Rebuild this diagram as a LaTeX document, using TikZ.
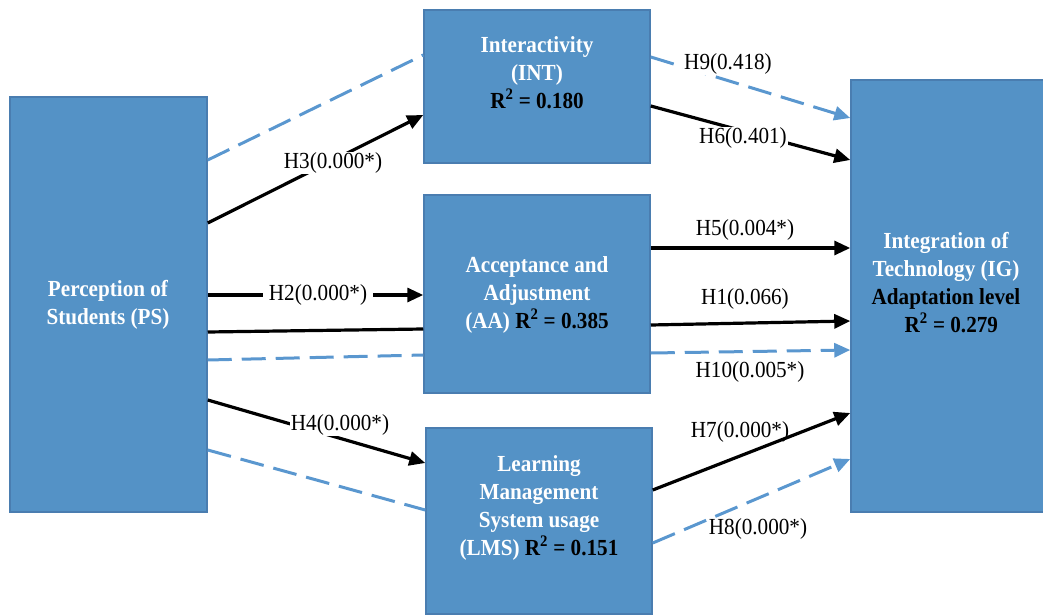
\documentclass[tikz,border=0pt]{standalone}
\usepackage{fontspec}
\setmainfont{Liberation Serif}[FakeStretch=0.92]
\usetikzlibrary{arrows.meta}
\definecolor{boxfill}{HTML}{5492C6}
\definecolor{boxline}{HTML}{4A7DB0}
\definecolor{dashblue}{HTML}{5A97CF}
\begin{document}
\begin{tikzpicture}[x=1pt,y=-1pt,
  box/.style={draw=boxline,fill=boxfill,line width=1.5pt,inner sep=0pt,rectangle},
  boxtext/.style={align=center,font=\fontsize{23}{28}\selectfont\bfseries,text=white,inner sep=0pt},
  lbl/.style={font=\fontsize{23}{26}\selectfont,text=black,inner sep=1pt},
  wlbl/.style={lbl,fill=white},
  solidln/.style={line width=3.2pt},
  solidarr/.style={solidln,-{Triangle[length=16pt,width=14pt]}},
  dashln/.style={draw=dashblue,line width=3pt,dash pattern=on 24pt off 10pt},
  dasharr/.style={dashln,-{Triangle[length=16pt,width=14pt]}}
]
\useasboundingbox (0,0) rectangle (1043,615);
% boxes
\node[box,minimum width=197pt,minimum height=415pt] (PS) at (108.5,304.5) {};
\node[box,minimum width=226pt,minimum height=153pt] (INT) at (537,86.5) {};
\node[box,minimum width=226pt,minimum height=198pt] (AA) at (537,294) {};
\node[box,minimum width=226pt,minimum height=186pt] (LMS) at (539,521) {};
\node[box,minimum width=204pt,minimum height=432pt] (IG) at (953,296) {};
% box texts
\node[boxtext] (PSt) at (108,305) {Perception of\\Students (PS)};
\node[boxtext] (INTt) at (537,73) {Interactivity\\(INT)\\\textcolor{black}{R\textsuperscript{2} = 0.180}};
\node[boxtext] (AAt) at (537,295) {Acceptance and\\Adjustment\\(AA) \textcolor{black}{R\textsuperscript{2} = 0.385}};
\node[boxtext] (LMSt) at (539,508) {Learning\\Management\\System usage\\(LMS) \textcolor{black}{R\textsuperscript{2} = 0.151}};
\node[boxtext] (IGt) at (946,283) {Integration of\\Technology (IG)\\\textcolor{black}{Adaptation level}\\\textcolor{black}{\ \ R\textsuperscript{2} = 0.279}};
% connectors PS -> mediators
\draw[dashln] (PS.east |- 0,160) -- (INT.west |- 0,55);
\draw[solidarr] (PS.east |- 0,223) -- (INT.west |- 0,115);
\draw[solidarr] (PS.east |- 0,295) -- (AA.west |- 0,295);
\draw[solidln] (PS.east |- 0,332) -- (AA.west |- 0,329);
\draw[dashln] (PS.east |- 0,360) -- (AA.west |- 0,355);
\draw[solidarr] (PS.east |- 0,400) -- (LMS.west |- 0,463);
\draw[dashln] (PS.east |- 0,450) -- (LMS.west |- 0,510);
% connectors mediators -> IG
\draw[dasharr] (INT.east |- 0,57) -- (IG.west |- 0,118);
\draw[solidarr] (INT.east |- 0,106) -- (IG.west |- 0,160);
\draw[solidarr] (AA.east |- 0,248) -- (IG.west |- 0,248);
\draw[solidarr] (AA.east |- 0,325) -- (IG.west |- 0,321);
\draw[dasharr] (AA.east |- 0,353) -- (IG.west |- 0,350);
\draw[solidarr] (LMS.east |- 0,490) -- (IG.west |- 0,413);
\draw[dasharr] (LMS.east |- 0,543) -- (IG.west |- 0,459);
% labels
\node[wlbl] (H3) at (333,163) {H3(0.000*)};
\node[wlbl] (H9) at (728,64) {H9(0.418)};
\node[wlbl] (H6) at (743,138) {H6(0.401)};
\node[lbl] (H5) at (745,230) {H5(0.004*)};
\node[wlbl,inner xsep=6pt] (H2) at (318,295) {H2(0.000*)};
\node[lbl] (H1) at (745,299) {H1(0.066)};
\node[lbl] (H10) at (750,372) {H10(0.005*)};
\node[wlbl] (H4) at (340,425) {H4(0.000*)};
\node[lbl] (H7) at (740,432) {H7(0.000*)};
\node[lbl] (H8) at (758,529) {H8(0.000*)};
\end{tikzpicture}
\end{document}
